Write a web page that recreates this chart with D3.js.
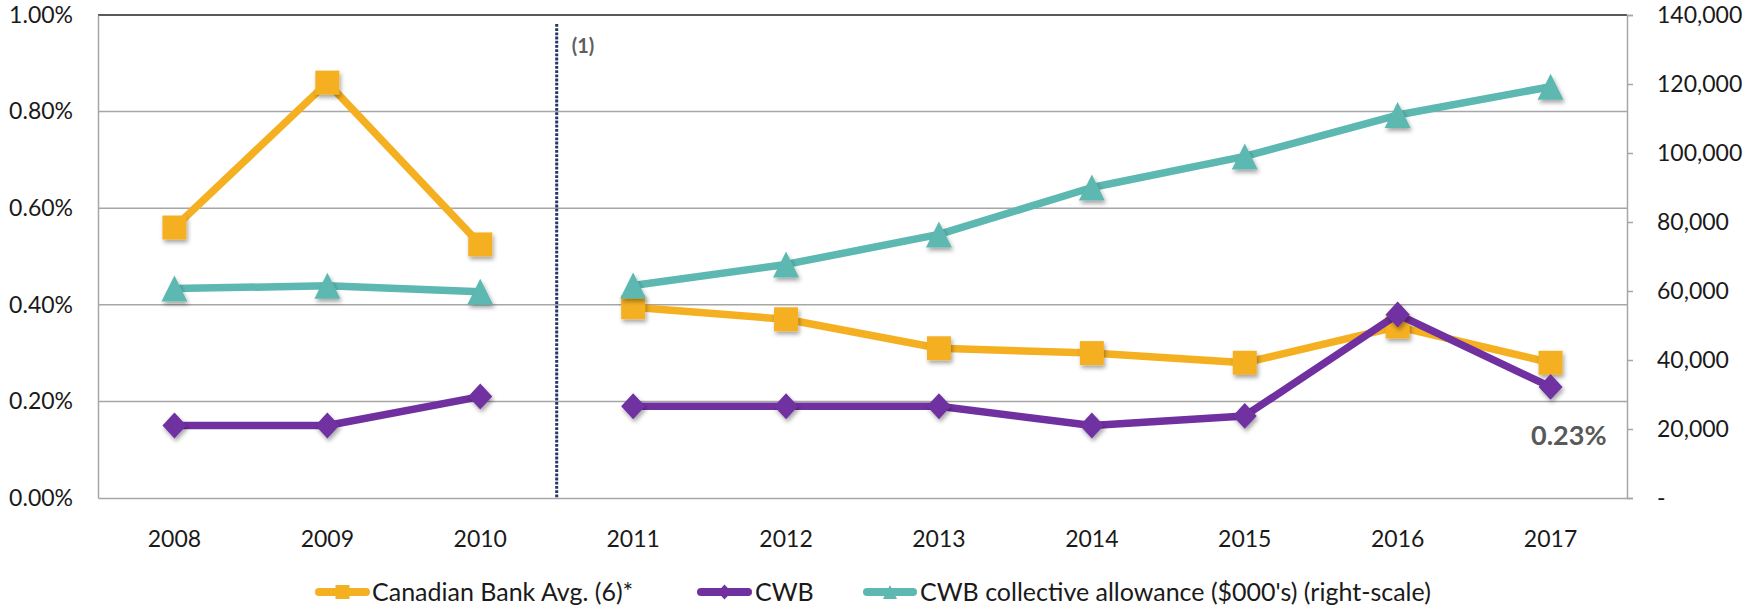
<!DOCTYPE html>
<html>
<head>
<meta charset="utf-8">
<script src="https://cdn.jsdelivr.net/npm/d3@7"></script>
<style>
  html, body { margin: 0; padding: 0; background: #fff; }
  svg { display: block; }
  text { font-family: Lato, "Open Sans", sans-serif; }
</style>
</head>
<body>
<svg id="chart" width="1758" height="608"></svg>
<script>
// ---------------- data ----------------
const years = ["2008","2009","2010","2011","2012","2013","2014","2015","2016","2017"];
const bankAvg = [0.56, 0.86, 0.525, 0.395, 0.37, 0.31, 0.30, 0.28, 0.355, 0.28];   // %
const cwb = [0.15, 0.15, 0.21, 0.19, 0.19, 0.19, 0.15, 0.17, 0.38, 0.23];           // %
const allowance = [60700, 61500, 59800, 61600, 67700, 76400, 90000, 99000, 111000, 119200]; // $000's
const leftTicks = [0, 0.2, 0.4, 0.6, 0.8, 1.0];
const rightTicks = [0, 20000, 40000, 60000, 80000, 100000, 120000, 140000];
const seriesNames = ["Canadian Bank Avg. (6)*", "CWB", "CWB collective allowance ($000's) (right-scale)"];
const breakNote = "(1)";

// ---------------- layout ----------------
const L = 98, R = 1627, T = 15, B = 498;
const colors = { bank: "#F5B021", cwb: "#7030A0", allow: "#5CB8B1" };

const svg = d3.select("#chart");
const defs = svg.append("defs");
const f = defs.append("filter").attr("id", "shadow").attr("x", "-50%").attr("y", "-50%").attr("width", "200%").attr("height", "200%");
f.append("feDropShadow").attr("dx", 1.5).attr("dy", 3).attr("stdDeviation", 2)
  .attr("flood-color", "#000").attr("flood-opacity", 0.35);

const x = d3.scaleBand().domain(years).range([L, R]).padding(0);
const cx = d => x(d) + x.bandwidth() / 2;
const yL = d3.scaleLinear().domain([0, 1]).range([B, T]);
const yR = d3.scaleLinear().domain([0, 140000]).range([B, T]);

// gridlines
svg.append("g").selectAll("line").data(leftTicks.filter(v => v > 0 && v < 1)).join("line")
  .attr("x1", L).attr("x2", R).attr("y1", d => yL(d)).attr("y2", d => yL(d))
  .attr("stroke", "#a6a6a6").attr("stroke-width", 1.5);
// top border
svg.append("line").attr("x1", L).attr("x2", R).attr("y1", yL(1)).attr("y2", yL(1))
  .attr("stroke", "#595959").attr("stroke-width", 2);

// left axis
const gL = svg.append("g").attr("transform", `translate(${L},0)`)
  .call(d3.axisLeft(yL).tickValues(leftTicks).tickSize(0).tickPadding(25)
    .tickFormat(v => v.toFixed(2) + "%"));
gL.select(".domain").attr("stroke", "#a6a6a6").attr("stroke-width", 1.5);
gL.selectAll("text").attr("font-size", 23).attr("fill", "#1a1a1a").attr("font-family", "Lato");

// right axis
const gR = svg.append("g").attr("transform", `translate(${R},0)`)
  .call(d3.axisRight(yR).tickValues(rightTicks).tickSize(6).tickPadding(24)
    .tickFormat(v => v === 0 ? "-" : d3.format(",")(v)));
gR.select(".domain").attr("stroke", "#a6a6a6").attr("stroke-width", 1.5);
gR.selectAll(".tick line").attr("stroke", "#a6a6a6").attr("stroke-width", 1.5);
gR.selectAll("text").attr("font-size", 23).attr("fill", "#1a1a1a").attr("font-family", "Lato");

// bottom axis
const gB = svg.append("g").attr("transform", `translate(0,${B})`)
  .call(d3.axisBottom(x).tickSize(0));
gB.select(".domain").attr("stroke", "#a6a6a6").attr("stroke-width", 1.5);
gB.selectAll("text").attr("dy", null).attr("y", 49)
  .attr("font-size", 23).attr("fill", "#1a1a1a").attr("font-family", "Lato");

// break line between 2010 and 2011
const bx = x("2011");
svg.append("line").attr("x1", bx).attr("x2", bx).attr("y1", T + 9).attr("y2", B)
  .attr("stroke", "#1f3864").attr("stroke-width", 3).attr("stroke-dasharray", "2.8,1.4");
svg.append("text").attr("x", bx + 15).attr("y", 53).text(breakNote)
  .attr("font-family", "'Liberation Sans', Arial, sans-serif").attr("font-weight", "bold")
  .attr("font-size", 20).attr("fill", "#5f5f5f");

// marker shapes
function markerPath(type, s) {
  const h = s / 2;
  if (type === "square") return `M${-h},${-h}H${h}V${h}H${-h}Z`;
  if (type === "diamond") return `M0,${-h * 1.08}L${h},0L0,${h * 1.08}L${-h},0Z`;
  return `M0,${-h}L${h},${h}L${-h},${h}Z`; // triangle
}

const series = [
  { key: "bank", vals: bankAvg, y: yL, color: colors.bank, marker: "square", size: 24 },
  { key: "cwb", vals: cwb, y: yL, color: colors.cwb, marker: "diamond", size: 24 },
  { key: "allow", vals: allowance, y: yR, color: colors.allow, marker: "triangle", size: 26 }
];

// segments: 2008-2010 and 2011-2017 drawn separately
const segs = [years.slice(0, 3), years.slice(3)];

series.forEach(s => {
  const pts = years.map((yr, i) => ({ yr, v: s.vals[i] }));
  const g = svg.append("g");
  const line = d3.line().x(d => cx(d.yr)).y(d => s.y(d.v));
  segs.forEach(seg => {
    g.append("path").datum(pts.filter(p => seg.includes(p.yr)))
      .attr("d", line).attr("fill", "none").attr("stroke", s.color)
      .attr("stroke-width", 7.5).attr("stroke-linejoin", "round").attr("stroke-linecap", "round");
  });
  g.selectAll("path.m").data(pts).join("path").attr("class", "m")
    .attr("transform", d => `translate(${cx(d.yr)},${s.y(d.v)})`)
    .attr("d", markerPath(s.marker, s.size))
    .attr("fill", s.color).attr("filter", "url(#shadow)");
});

// annotation for latest CWB value
svg.append("text").attr("x", cx(years[years.length - 1]) + 56).attr("y", 445)
  .attr("text-anchor", "end").text(cwb[cwb.length - 1].toFixed(2) + "%")
  .attr("font-family", "'Liberation Sans', Arial, sans-serif").attr("font-weight", "bold")
  .attr("font-size", 27).attr("fill", "#595959");

// legend
const legendPos = [ { x1: 315, x2: 370, tx: 372 }, { x1: 697, x2: 752, tx: 755 }, { x1: 863, x2: 917, tx: 920 } ];
const ly = 592;
series.forEach((s, i) => {
  const p = legendPos[i];
  const g = svg.append("g");
  g.append("line").attr("x1", p.x1 + 4).attr("x2", p.x2 - 4).attr("y1", ly).attr("y2", ly)
    .attr("stroke", s.color).attr("stroke-width", 8).attr("stroke-linecap", "round");
  g.append("path").attr("transform", `translate(${(p.x1 + p.x2) / 2},${ly})`)
    .attr("d", markerPath(s.marker, 14)).attr("fill", s.color);
  g.append("text").attr("x", p.tx).attr("y", 601).text(seriesNames[i])
    .attr("font-size", 25).attr("fill", "#1a1a1a");
});
</script>
</body>
</html>
